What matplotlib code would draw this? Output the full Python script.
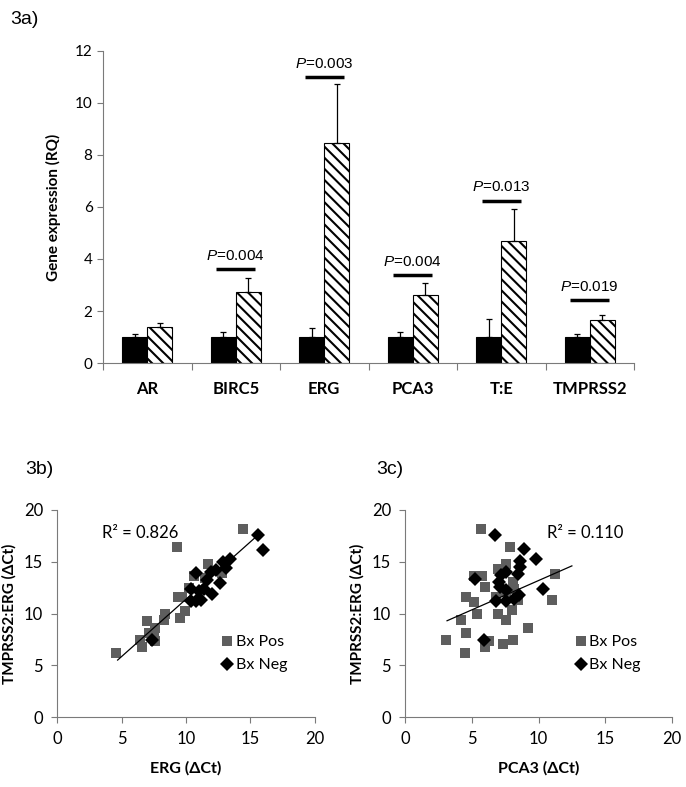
import numpy as np
import matplotlib
matplotlib.use("Agg")
import matplotlib.pyplot as plt
from matplotlib.lines import Line2D

plt.rcParams["font.family"] = ["Lato", "DejaVu Sans"]
plt.rcParams["hatch.linewidth"] = 1.5
plt.rcParams["mathtext.fontset"] = "custom"
plt.rcParams["mathtext.it"] = "Liberation Sans:italic"
plt.rcParams["mathtext.rm"] = "Liberation Sans"

# panel 3a: relative gene expression
genes = ["AR", "BIRC5", "ERG", "PCA3", "T:E", "TMPRSS2"]
neg_rq = [1.0, 1.0, 1.0, 1.0, 1.0, 1.0]
neg_err = [0.12, 0.19, 0.34, 0.19, 0.70, 0.12]
pos_rq = [1.37, 2.75, 8.45, 2.60, 4.68, 1.65]
pos_err = [0.16, 0.52, 2.27, 0.48, 1.25, 0.20]
p_values = [None, "0.004", "0.003", "0.004", "0.013", "0.019"]
p_line_y = [None, 3.60, 10.99, 3.40, 6.25, 2.43]

# panel 3b: TMPRSS2:ERG vs ERG
erg_pos_x = [4.6, 14.4, 9.3, 7.0, 6.4, 6.6, 7.1, 7.6, 8.4, 8.3, 9.4, 9.7, 9.5,
             9.9, 10.2, 10.6, 11.7, 12.8, 13.0, 7.6, 7.5, 11.5]
erg_pos_y = [6.2, 18.2, 16.4, 9.3, 7.4, 6.8, 8.1, 8.6, 10.0, 9.4, 11.6, 11.6, 9.6,
             10.2, 12.5, 13.6, 14.8, 13.9, 14.6, 7.3, 8.0, 13.4]
erg_neg_x = [15.6, 16.0, 7.4, 10.8, 10.4, 10.4, 11.2, 11.4, 12.0, 12.6, 11.9, 12.3,
             12.9, 13.4, 13.1, 11.6, 11.0, 10.8]
erg_neg_y = [17.6, 16.1, 7.4, 13.9, 12.4, 11.2, 11.3, 12.4, 11.9, 12.9, 14.0, 14.2,
             15.0, 15.3, 14.4, 13.2, 12.2, 11.2]
erg_trend_x = [4.7, 15.6]
erg_trend_y = [5.5, 17.6]

# panel 3c: TMPRSS2:ERG vs PCA3
pca_pos_x = [5.7, 7.9, 7.6, 7.0, 5.2, 5.8, 6.0, 4.6, 5.2, 5.4, 4.2, 3.1, 4.5, 4.6,
             6.0, 6.3, 7.35, 8.1, 9.2, 7.0, 7.6, 8.05, 8.5, 8.2, 11.2, 11.0, 6.8,
             7.6, 8.1]
pca_pos_y = [18.2, 16.4, 14.8, 14.3, 13.6, 13.6, 12.6, 11.6, 11.1, 10.0, 9.4, 7.45,
             6.2, 8.1, 6.8, 7.3, 7.1, 7.45, 8.6, 10.0, 9.4, 10.35, 11.3, 12.4, 13.8,
             11.3, 11.6, 12.1, 13.0]
pca_neg_x = [6.75, 8.9, 9.8, 8.65, 8.6, 8.5, 5.25, 10.3, 7.55, 7.2, 7.05, 7.1, 7.6,
             6.85, 7.55, 8.2, 8.55, 5.95]
pca_neg_y = [17.6, 16.2, 15.3, 15.1, 14.5, 13.8, 13.3, 12.4, 14.0, 13.7, 13.0, 12.6,
             12.3, 11.2, 11.2, 11.4, 11.8, 7.4]
pca_trend_x = [3.15, 12.5]
pca_trend_y = [9.3, 14.6]

W, H = 686, 787
fig = plt.figure(figsize=(W / 100, H / 100), dpi=100)


def px_axes(left, top, right, bottom):
    return fig.add_axes([left / W, 1 - bottom / H, (right - left) / W, (bottom - top) / H])


spine_col = "#7a7a7a"

# ---- 3a ----
ax = px_axes(103, 51, 634, 363)
x = np.arange(len(genes))
bw = 0.28
ax.bar(x - bw / 2, neg_rq, bw, color="black", edgecolor="black", linewidth=0.8)
ax.bar(x + bw / 2, pos_rq, bw, color="white", edgecolor="black", hatch="\\\\\\",
       linewidth=0.8)
ax.errorbar(x - bw / 2, neg_rq, yerr=[np.zeros(len(genes)), neg_err], fmt="none",
            ecolor="black", elinewidth=0.9, capsize=2.5, capthick=0.9)
ax.errorbar(x + bw / 2, pos_rq, yerr=[np.zeros(len(genes)), pos_err], fmt="none",
            ecolor="black", elinewidth=0.9, capsize=2.5, capthick=0.9)
for i, (p, ly) in enumerate(zip(p_values, p_line_y)):
    if p is None:
        continue
    ax.hlines(ly, i - 0.22, i + 0.22, color="black", linewidth=2.5)
    ax.text(i, ly + 0.35, r"$\mathit{P}$=" + p, ha="center", va="baseline",
            fontsize=11, family=["Liberation Sans"])

ax.set_xlim(-0.5, len(genes) - 0.5)
ax.set_ylim(0, 12)
ax.set_yticks(range(0, 13, 2))
ax.set_xticks(np.arange(len(genes) + 1) - 0.5)
ax.set_xticklabels([])
ax.set_xticks(x, minor=True)
ax.set_xticklabels(genes, minor=True, fontweight="bold", fontsize=12)
ax.tick_params(axis="x", which="major", direction="out", length=5, color=spine_col)
ax.tick_params(axis="x", which="minor", length=0, pad=13)
ax.tick_params(axis="y", direction="out", length=4, color=spine_col, labelsize=11)
for s in ["top", "right"]:
    ax.spines[s].set_visible(False)
for s in ["left", "bottom"]:
    ax.spines[s].set_color(spine_col)
ax.set_ylabel("Gene expression (RQ)", fontweight="bold", fontsize=11, labelpad=10)
fig.text(10 / W, 1 - 24 / H, "3a)", fontsize=14, family=["Liberation Sans"])


# ---- 3b / 3c ----
def scatter_panel(ax, pos_x, pos_y, neg_x, neg_y, tx, ty, r2, r2_xy, xlabel, leg_anchor):
    ax.plot(pos_x, pos_y, "s", color="#5e5e5e", markersize=7.5, markeredgewidth=0)
    ax.plot(neg_x, neg_y, "D", color="black", markersize=7, markeredgewidth=0)
    ax.plot(tx, ty, color="black", linewidth=0.9)
    ax.text(r2_xy[0], r2_xy[1], r2, fontsize=12, va="center")
    ax.set_xlim(0, 20)
    ax.set_ylim(0, 20)
    ax.set_xticks(range(0, 21, 5))
    ax.set_yticks(range(0, 21, 5))
    ax.tick_params(direction="out", length=4, color=spine_col, labelsize=12, pad=6)
    for s in ["top", "right"]:
        ax.spines[s].set_visible(False)
    for s in ["left", "bottom"]:
        ax.spines[s].set_color(spine_col)
    ax.set_xlabel(xlabel, fontweight="bold", fontsize=11.5, labelpad=10)
    ax.set_ylabel("TMPRSS2:ERG (ΔCt)", fontweight="bold", fontsize=11, labelpad=5)
    handles = [
        Line2D([], [], marker="s", linestyle="none", color="#5e5e5e", markersize=7.5,
               markeredgewidth=0),
        Line2D([], [], marker="D", linestyle="none", color="black", markersize=7,
               markeredgewidth=0),
    ]
    ax.legend(handles, ["Bx Pos", "Bx Neg"], loc="upper left", bbox_to_anchor=leg_anchor,
              frameon=False, fontsize=11.5, handlelength=0.6, handletextpad=0.25,
              labelspacing=0.55, borderpad=0, borderaxespad=0)


axb = px_axes(57, 510, 315, 717)
scatter_panel(axb, erg_pos_x, erg_pos_y, erg_neg_x, erg_neg_y, erg_trend_x, erg_trend_y,
              "R² = 0.826", (3.5, 17.8), "ERG (ΔCt)", (0.64, 0.395))
fig.text(25 / W, 1 - 474 / H, "3b)", fontsize=14, family=["Liberation Sans"])

axc = px_axes(405, 510, 672, 717)
scatter_panel(axc, pca_pos_x, pca_pos_y, pca_neg_x, pca_neg_y, pca_trend_x, pca_trend_y,
              "R² = 0.110", (10.6, 17.8), "PCA3 (ΔCt)", (0.64, 0.395))
fig.text(376 / W, 1 - 474 / H, "3c)", fontsize=14, family=["Liberation Sans"])

fig.savefig("out.png", dpi=100)
